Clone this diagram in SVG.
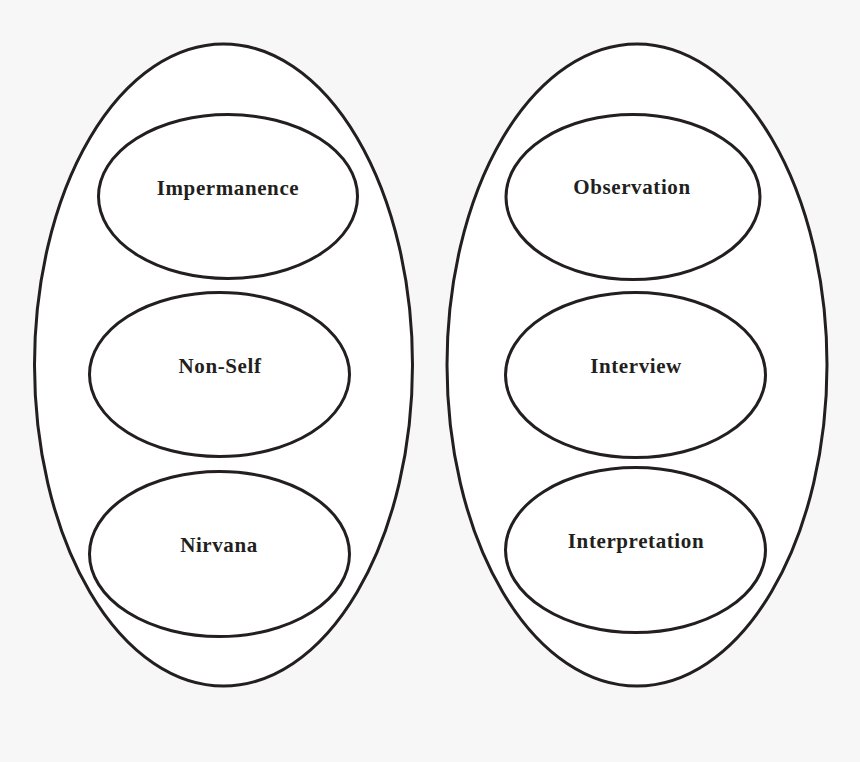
<svg xmlns="http://www.w3.org/2000/svg" width="860" height="762" viewBox="0 0 860 762">
<style>
.outer{fill:#ffffff;stroke:#231f20;stroke-width:3}
.inner{fill:#ffffff;stroke:#231f20;stroke-width:3}
.lbl{font-family:"Liberation Serif","Times New Roman",serif;font-weight:bold;font-size:21px;fill:#231f20;text-anchor:middle;letter-spacing:0.6px}
</style>
<rect x="0" y="0" width="860" height="762" fill="#f7f7f7"/>
<g id="group-left">
<ellipse class="outer" cx="223.5" cy="365" rx="189" ry="321"/>
</g>
<g id="group-right">
<ellipse class="outer" cx="637" cy="365" rx="190" ry="321"/>
</g>
<g id="connectors"></g>
<g id="node-impermanence">
<ellipse class="inner" cx="228" cy="196.5" rx="129.5" ry="82"/>
<text class="lbl" x="228" y="195">Impermanence</text>
</g>
<g id="node-nonself">
<ellipse class="inner" cx="219.5" cy="374.5" rx="130" ry="82"/>
<text class="lbl" x="220" y="373">Non-Self</text>
</g>
<g id="node-nirvana">
<ellipse class="inner" cx="219.5" cy="554" rx="130" ry="82.5"/>
<text class="lbl" x="219" y="552">Nirvana</text>
</g>
<g id="node-observation">
<ellipse class="inner" cx="633" cy="197" rx="127" ry="82.5"/>
<text class="lbl" x="632" y="194">Observation</text>
</g>
<g id="node-interview">
<ellipse class="inner" cx="635.5" cy="375" rx="130" ry="82.5"/>
<text class="lbl" x="636" y="373">Interview</text>
</g>
<g id="node-interpretation">
<ellipse class="inner" cx="635.5" cy="550" rx="130" ry="82.5"/>
<text class="lbl" x="636" y="548">Interpretation</text>
</g>
</svg>
